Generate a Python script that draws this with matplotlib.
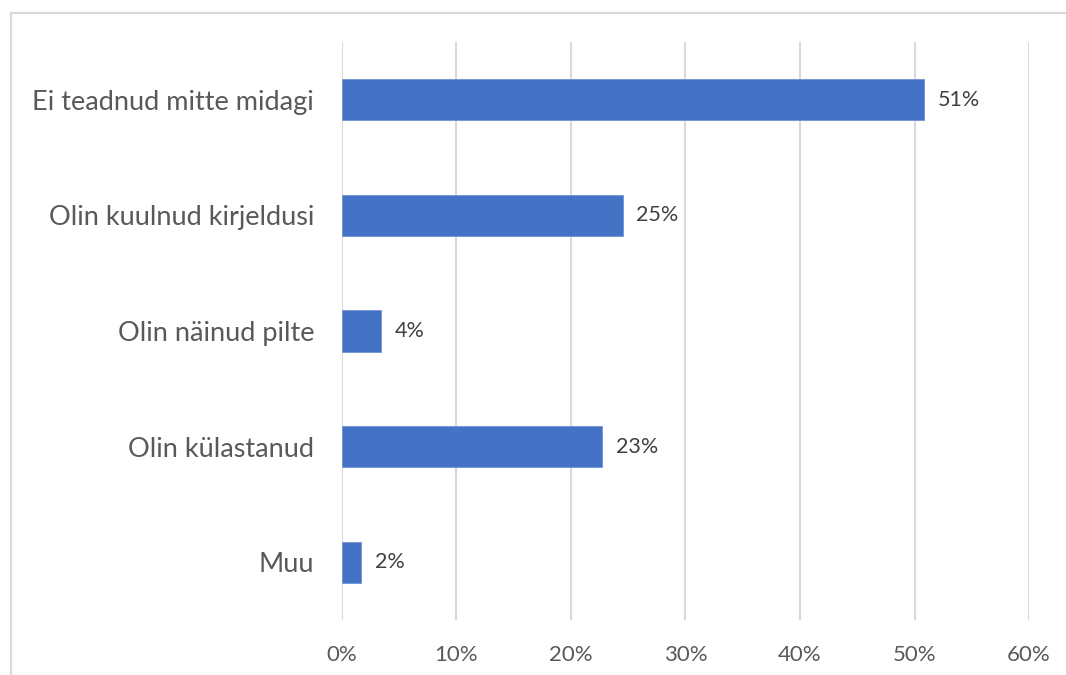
import matplotlib.pyplot as plt
from matplotlib.lines import Line2D

# andmed
kategooriad = ['Ei teadnud mitte midagi', 'Olin kuulnud kirjeldusi', 'Olin näinud pilte',
               'Olin külastanud', 'Muu']
osakaal = [50.8, 24.5, 3.4, 22.7, 1.7]
sildid = ['51%', '25%', '4%', '23%', '2%']
x_ticks = [0, 10, 20, 30, 40, 50, 60]

plt.rcParams['font.family'] = ['Lato', 'DejaVu Sans']

fig = plt.figure(figsize=(10.66, 6.75), dpi=100)
ax = fig.add_axes([0.3208, 0.0815, 0.6445, 0.8563])

y = list(range(len(kategooriad)))
ax.barh(y, osakaal, height=0.355, color='#4472C4', edgecolor='#6f93d6', linewidth=0.6, zorder=3)
for yi, v, s in zip(y, osakaal, sildid):
    ax.text(v + 1.2, yi, s, va='center', ha='left', fontsize=15.5, color='#404040')

ax.set_ylim(len(kategooriad) - 0.5, -0.5)
ax.set_xlim(0, 60)
ax.set_yticks(y)
ax.set_yticklabels(kategooriad, fontsize=19.5, color='#595959')
ax.set_xticks(x_ticks)
ax.set_xticklabels([f'{t}%' for t in x_ticks], fontsize=16, color='#595959')
ax.tick_params(axis='y', length=0, pad=20)
ax.tick_params(axis='x', length=0, pad=18)
ax.grid(axis='x', color='#D9D9D9', linewidth=1.5, zorder=0)
for sp in ax.spines.values():
    sp.set_visible(False)

# raam
fig.add_artist(Line2D([11 / 1066, 11 / 1066], [0, 1 - 13 / 675], color='#D9D9D9', linewidth=1.5))
fig.add_artist(Line2D([11 / 1066, 1], [1 - 13 / 675, 1 - 13 / 675], color='#D9D9D9', linewidth=1.5))

fig.savefig('out.png', dpi=100)
